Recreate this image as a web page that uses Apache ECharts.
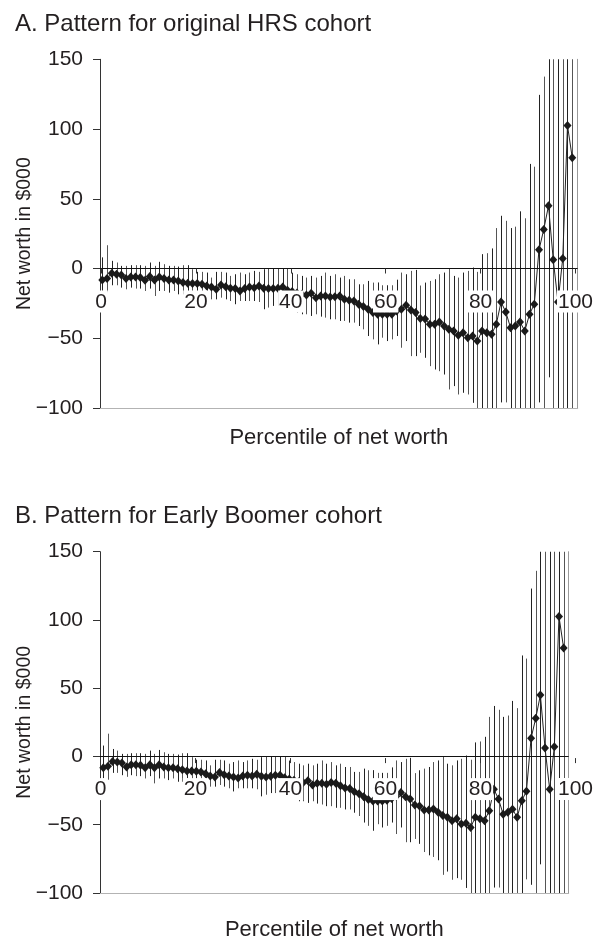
<!DOCTYPE html>
<html>
<head>
<meta charset="utf-8">
<script src="https://cdn.jsdelivr.net/npm/echarts@6/dist/echarts.min.js"></script>
<style>
html,body{margin:0;padding:0;background:#fff;}
#chart{width:597px;height:942px;}
</style>
</head>
<body>
<div id="chart"></div>
<script>
// ---- data ----
const percentiles = Array.from({length: 100}, (_, i) => i + 1);
const xTickLabels = [0, 20, 40, 60, 80, 100];
const yTickLabels = [-100, -50, 0, 50, 100, 150];

const hrsMean = [
 -8.2,-7.2,-3.4,-4.1,-4.6,-7.2,-6.0,-6.0,-6.5,-8.4,
 -5.8,-8.2,-6.0,-7.2,-8.2,-8.2,-8.9,-10.1,-10.6,-10.8,
 -10.8,-11.3,-12.5,-13.2,-14.9,-11.8,-13.0,-14.1,-14.4,-16.1,
 -14.4,-13.2,-13.7,-12.5,-14.1,-14.4,-14.4,-14.1,-13.2,-15.6,
 -16.5,-17.5,-18.5,-19.0,-17.8,-20.9,-19.7,-19.7,-20.4,-20.2,
 -19.7,-22.0,-22.8,-23.2,-25.6,-27.3,-29.2,-31.6,-32.8,-32.8,
 -32.8,-32.8,-30.4,-29.2,-26.4,-29.7,-31.6,-35.9,-36.2,-40.0,
 -40.0,-38.3,-41.2,-43.6,-44.8,-47.9,-46.0,-49.6,-48.4,-52.0,
 -44.8,-46.0,-47.2,-40.0,-24.0,-31.2,-42.4,-41.2,-38.3,-44.8,
 -32.8,-25.6,13.4,28.0,45.0,6.2,-24.0,7.2,102.5,79.5
];
const hrsLow = [
 -16,-17,-12,-12,-13.7,-14.9,-13.7,-14.4,-14.4,-16.1,
 -14.4,-19.7,-16.1,-16.1,-17.3,-16.1,-18.5,-18.5,-16.1,-19.7,
 -19.7,-20.9,-20.9,-22.1,-22.1,-20.9,-22.1,-23.3,-25.6,-23.3,
 -23.3,-23.3,-23.3,-24.0,-29.2,-28.0,-26.8,-26.8,-28.0,-29.2,
 -30.0,-31.6,-32.8,-32.8,-34.0,-32.8,-34.5,-35.2,-36.4,-36.4,
 -37.6,-37.6,-38.8,-38.8,-41.2,-43.6,-48.4,-50.8,-54.4,-49.6,
 -52.0,-50.8,-48.4,-56.8,-52.0,-62.8,-62.8,-60.4,-64.0,-70.0,
 -72.4,-73.6,-76.0,-86.7,-84.3,-90.3,-89.1,-90.3,-96.3,-120,
 -120,-120,-120,-120,-96,-96,-120,-120,-120,-120,
 -120,-120,-96,-110,-78,-120,-120,-120,-120,-120
];
const hrsHigh = [
 8,16.7,5.5,4.3,1.9,1.9,2.4,2.4,2.4,1.9,
 4.3,1.9,4.8,3.1,1.9,1.9,1.4,2.4,2.4,-0.5,
 -2.4,-2.4,-2.9,-6.5,-2.4,-2.4,-2.9,-5.3,-4.1,-2.9,
 -4.1,-2.9,-1.7,-2.4,-0.5,0,0,0,0,0,
 -3.0,-4.1,-5.3,-6.5,-5.3,-6.5,-5.3,-2.9,-5.3,-4.1,
 -6.5,-5.3,-7.7,-7.7,-11.3,-11.3,-8.9,-10.1,-10.0,-12.0,
 -12.0,-12.0,-8.0,-2.9,-4.1,-1.7,-1.0,-12.2,-10.1,-8.9,
 -7.7,-4.1,-2.9,0,-5.3,-6.5,-2.9,-1.7,0.7,-2.4,
 10.3,11.0,14.4,29.0,37.8,34.2,29.0,30.0,41.0,36.0,
 75.0,73.0,124.5,137.6,180,180,180,180,180,180
];

const boomerMean = [
 -8.2,-7.2,-3.6,-4.1,-4.8,-7.7,-6.0,-6.0,-6.5,-8.2,
 -6.0,-8.2,-6.0,-7.7,-8.2,-8.2,-8.9,-9.7,-10.6,-10.6,
 -10.9,-11.4,-12.6,-14.3,-15.0,-11.8,-13.3,-14.3,-15.0,-15.7,
 -14.3,-13.8,-14.3,-13.0,-14.5,-15.0,-14.5,-13.8,-13.8,-15.6,
 -16.5,-17.5,-18.5,-19.0,-17.8,-20.9,-19.7,-19.7,-20.4,-19.1,
 -19.7,-21.5,-23.0,-23.5,-25.9,-27.3,-29.5,-31.5,-32.7,-32.7,
 -32.7,-32.0,-30.7,-29.2,-26.4,-29.5,-31.2,-35.6,-36.3,-39.2,
 -39.2,-38.5,-40.9,-43.3,-44.5,-47.0,-45.7,-49.4,-48.9,-52.0,
 -44.5,-45.7,-47.0,-39.7,-24.0,-31.2,-42.4,-40.9,-38.7,-44.5,
 -32.4,-25.4,13.4,28.0,45.0,6.2,-24.0,7.2,102.5,79.5
];
const boomerLow = [
 -16,-17,-12,-12,-13.7,-14.9,-13.7,-14.4,-14.4,-16.1,
 -14.4,-19.7,-16.1,-16.1,-17.3,-16.1,-18.5,-18.5,-16.1,-19.7,
 -19.7,-20.9,-20.9,-22.1,-22.1,-20.9,-22.1,-23.3,-25.6,-23.3,
 -23.3,-23.3,-23.3,-24.0,-29.2,-28.0,-26.8,-26.8,-28.0,-29.2,
 -30.0,-31.6,-32.8,-32.8,-34.0,-32.8,-34.5,-35.2,-36.4,-36.4,
 -37.6,-37.6,-38.8,-38.8,-41.2,-43.6,-48.4,-50.8,-54.4,-49.6,
 -52.0,-50.8,-48.4,-56.8,-52.0,-62.8,-62.8,-60.4,-64.0,-70.0,
 -72.4,-73.6,-76.0,-86.7,-84.3,-90.3,-89.1,-90.3,-96.3,-120,
 -120,-120,-120,-120,-96,-96,-120,-120,-120,-120,
 -120,-90,-94,-110,-79,-120,-120,-120,-120,-120
];
const boomerHigh = [
 8,16.7,5.5,4.3,1.9,1.9,2.4,2.4,2.4,1.9,
 4.3,1.9,4.8,3.1,1.9,1.9,1.4,2.4,2.4,-0.5,
 -2.4,-2.4,-2.9,-6.5,-2.4,-2.4,-2.9,-5.3,-4.1,-2.9,
 -4.1,-2.9,-1.7,-2.4,-0.5,0,0,0,0,0,
 -3.0,-4.1,-5.3,-6.5,-5.3,-6.5,-5.3,-2.9,-5.3,-4.1,
 -6.5,-5.3,-7.7,-7.7,-11.3,-11.3,-8.9,-10.1,-10.0,-12.0,
 -12.0,-12.0,-8.0,-2.9,-4.1,-1.7,-1.0,-12.2,-10.1,-8.9,
 -7.7,-4.1,-2.9,0,-5.3,-6.5,-2.9,-1.7,0.7,-2.4,
 10.3,11.0,14.4,29.0,37.0,34.2,29.0,30.0,40.7,35.4,
 74.0,71.7,123.0,136.0,180,180,180,180,180,180
];

// ---- styling ----
const FONT = "'Liberation Sans', Arial, Helvetica, sans-serif";
const TXT = '#231f20';

function errBars(low, high) {
  return percentiles.map((p, i) => [p, low[i], high[i]]);
}
function points(mean) {
  return percentiles.map((p, i) => [p, mean[i]]);
}
function renderBar(params, api) {
  const x = api.value(0);
  const a = api.coord([x, api.value(1)]);
  const b = api.coord([x, api.value(2)]);
  const px = Math.round(a[0]) + 0.5;
  return {
    type: 'line',
    shape: {x1: px, y1: a[1], x2: px, y2: b[1]},
    style: {stroke: params.dataIndex % 2 ? '#555' : '#222', lineWidth: 1}
  };
}

function dataX(grid, min, max, gap) {
  return {
    gridIndex: grid, type: 'value', min: min, max: max,
    axisLine: {show: true, onZero: false, lineStyle: {color: '#b3b3b3', width: 1}},
    axisTick: {show: false}, axisLabel: {show: false}, splitLine: {show: false},
    name: 'Percentile of net worth', nameLocation: 'middle', nameGap: gap,
    nameTextStyle: {fontSize: 22, color: TXT, fontFamily: FONT}
  };
}
function labelX(grid, margin) {
  return {
    gridIndex: grid, type: 'value', min: 0, max: 100, interval: 20, z: 10,
    axisLine: {show: false},
    axisTick: {show: true, length: 5, lineStyle: {color: '#333'}},
    splitLine: {show: false},
    axisLabel: {
      margin: margin, fontSize: 21, color: TXT, fontFamily: FONT,
      backgroundColor: '#fff', padding: [1, 1, 0, 1],
      formatter: v => xTickLabels.includes(v) ? String(v) : ''
    }
  };
}
function mainY(grid) {
  return {
    gridIndex: grid, type: 'value', min: yTickLabels[0], max: yTickLabels[yTickLabels.length - 1], interval: 50,
    axisLine: {show: true, lineStyle: {color: '#333', width: 1}},
    axisTick: {show: true, length: 7, lineStyle: {color: '#333'}},
    splitLine: {show: false},
    axisLabel: {margin: 17, fontSize: 21, color: TXT, fontFamily: FONT,
      formatter: v => String(v).replace('-', '\u2212')},
    name: 'Net worth in $000', nameLocation: 'middle', nameGap: 65,
    nameMoveOverlap: false,
    nameTextStyle: {fontSize: 19.5, color: TXT, fontFamily: FONT}
  };
}
function borderY(grid) {
  return {
    gridIndex: grid, type: 'value', position: 'right', min: -100, max: 150,
    axisLine: {show: true, lineStyle: {color: '#9a9a9a', width: 1}},
    axisTick: {show: false}, axisLabel: {show: false}, splitLine: {show: false}
  };
}
function hiddenY(grid) {
  return {gridIndex: grid, type: 'value', show: false};
}
function barSeries(xi, yi, data) {
  return {
    type: 'custom', xAxisIndex: xi, yAxisIndex: yi, clip: true, z: 2,
    renderItem: renderBar, data: data, encode: {x: 0, y: [1, 2]}, silent: true
  };
}
function lineSeries(xi, yi, data) {
  return {
    type: 'line', xAxisIndex: xi, yAxisIndex: yi, z: 4, data: data,
    symbol: 'diamond', symbolSize: [8, 9], showSymbol: true,
    itemStyle: {color: '#1a1a1a'},
    lineStyle: {color: '#222', width: 1},
    markLine: {
      silent: true, symbol: ['none', 'none'], label: {show: false},
      lineStyle: {color: '#111', width: 1, type: 'solid'},
      data: [{yAxis: 0}]
    }
  };
}

const option = {
  animation: false,
  backgroundColor: '#fff',
  title: [
    {text: 'A. Pattern for original HRS cohort', left: 15, top: 12, padding: 0,
     textStyle: {fontSize: 24, fontWeight: 'normal', color: TXT, fontFamily: FONT}},
    {text: 'B. Pattern for Early Boomer cohort', left: 15, top: 504, padding: 0,
     textStyle: {fontSize: 24, fontWeight: 'normal', color: TXT, fontFamily: FONT}}
  ],
  grid: [
    {left: 100, top: 59.3, width: 477.7, height: 348.7},
    {left: 101, top: 267.5, width: 479, height: 1},
    {left: 100, top: 551.7, width: 468.7, height: 344},
    {left: 100.5, top: 757.1, width: 478.5, height: 1}
  ],
  xAxis: [
    dataX(0, 0.515, 101.15, 19),
    labelX(1, 22),
    dataX(2, 0.29, 101.09, 26),
    labelX(3, 20)
  ],
  yAxis: [
    mainY(0), borderY(0), hiddenY(1),
    mainY(2), borderY(2), hiddenY(3)
  ],
  series: [
    barSeries(0, 0, errBars(hrsLow, hrsHigh)),
    lineSeries(0, 0, points(hrsMean)),
    barSeries(2, 3, errBars(boomerLow, boomerHigh)),
    lineSeries(2, 3, points(boomerMean))
  ]
};

const chart = echarts.init(document.getElementById('chart'), null, {renderer: 'canvas'});
chart.setOption(option);
</script>
</body>
</html>
